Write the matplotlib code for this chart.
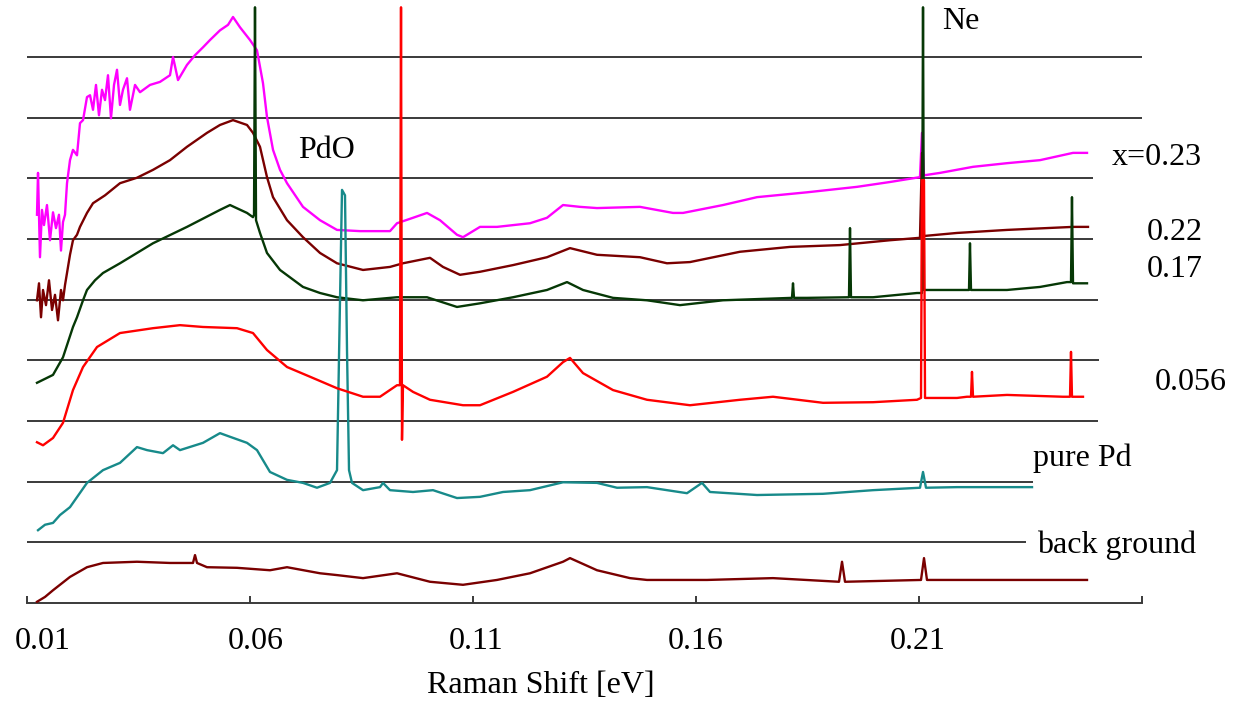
import matplotlib
matplotlib.use("Agg")
import matplotlib.pyplot as plt
import matplotlib.transforms as mtransforms

plt.rcParams['font.family'] = ['Liberation Serif', 'DejaVu Serif']

# ---------------- data (Raman shift in eV, intensity in offset units) -------------
x_023 = [0.01224, 0.01247, 0.01291, 0.01336, 0.01381, 0.01448, 0.01516, 0.01583, 0.01650, 0.01717,
         0.01762, 0.01807, 0.01852, 0.01897, 0.01964, 0.02031, 0.02121, 0.02188, 0.02256, 0.02345,
         0.02413, 0.02480, 0.02547, 0.02614, 0.02682, 0.02749, 0.02816, 0.02883, 0.02951, 0.03018,
         0.03085, 0.03152, 0.03242, 0.03309, 0.03422, 0.03534, 0.03758, 0.03982, 0.04206, 0.04274,
         0.04386, 0.04587, 0.04767, 0.04946, 0.05103, 0.05327, 0.05507, 0.05619, 0.05776, 0.06000,
         0.06157, 0.06291, 0.06381, 0.06516, 0.06673, 0.06830, 0.07188, 0.07570, 0.07951, 0.08466,
         0.09139, 0.09296, 0.09655, 0.09969, 0.10260, 0.10641, 0.10776, 0.11157, 0.11538, 0.12278,
         0.12659, 0.13018, 0.13399, 0.13780, 0.14744, 0.15484, 0.15709, 0.16605, 0.17368, 0.18489,
         0.19610, 0.20350, 0.21022, 0.21067, 0.21112, 0.21471, 0.22211, 0.22973, 0.23713, 0.24453,
         0.24767]
y_023 = [6.40, 7.09, 5.70, 6.48, 6.23, 6.56, 5.98, 6.44, 6.18, 6.40,
         5.81, 6.28, 6.40, 6.92, 7.30, 7.47, 7.38, 7.91, 7.96, 8.34,
         8.37, 8.13, 8.54, 8.04, 8.46, 8.29, 8.70, 7.99, 8.54, 8.79,
         8.21, 8.46, 8.65, 8.13, 8.54, 8.42, 8.54, 8.59, 8.70, 9.00,
         8.62, 8.87, 9.03, 9.16, 9.28, 9.44, 9.53, 9.66, 9.49, 9.28,
         9.11, 8.57, 8.01, 7.47, 7.14, 6.92, 6.53, 6.31, 6.15, 6.13,
         6.13, 6.26, 6.35, 6.43, 6.31, 6.07, 6.03, 6.20, 6.20, 6.26,
         6.35, 6.56, 6.53, 6.51, 6.53, 6.43, 6.43, 6.56, 6.69, 6.77,
         6.86, 6.94, 7.02, 7.75, 7.05, 7.09, 7.19, 7.25, 7.30, 7.42,
         7.42]

x_022 = [0.01224, 0.01269, 0.01314, 0.01359, 0.01426, 0.01493, 0.01561, 0.01628, 0.01695, 0.01762,
         0.01807, 0.01852, 0.01897, 0.01964, 0.02031, 0.02121, 0.02188, 0.02345, 0.02480, 0.02749,
         0.03085, 0.03466, 0.03825, 0.04206, 0.04587, 0.05036, 0.05327, 0.05619, 0.05933, 0.06067,
         0.06224, 0.06381, 0.06516, 0.06830, 0.07188, 0.07570, 0.07951, 0.08534, 0.09139, 0.09430,
         0.10036, 0.10327, 0.10709, 0.11157, 0.11897, 0.12659, 0.13175, 0.13780, 0.14744, 0.15350,
         0.15865, 0.16987, 0.18108, 0.19229, 0.20350, 0.21022, 0.21067, 0.21112, 0.21852, 0.22973,
         0.24453, 0.24789]
y_022 = [4.99, 5.27, 4.71, 5.16, 4.91, 5.32, 4.83, 5.08, 4.66, 5.16,
         4.99, 5.24, 5.44, 5.74, 5.98, 6.07, 6.20, 6.43, 6.59, 6.72,
         6.92, 7.01, 7.14, 7.30, 7.52, 7.75, 7.88, 7.96, 7.88, 7.75,
         7.52, 7.02, 6.69, 6.31, 6.03, 5.77, 5.60, 5.49, 5.54, 5.60,
         5.69, 5.54, 5.41, 5.46, 5.57, 5.70, 5.85, 5.74, 5.70, 5.60,
         5.62, 5.79, 5.87, 5.90, 5.98, 6.02, 7.42, 6.05, 6.10, 6.15,
         6.20, 6.20]

x_017 = [0.01224, 0.01583, 0.01807, 0.02031, 0.02121, 0.02256, 0.02345, 0.02525, 0.02704, 0.03085,
         0.03825, 0.04587, 0.05327, 0.05552, 0.05933, 0.06067, 0.06090, 0.06112, 0.06135, 0.06224,
         0.06381, 0.06673, 0.07188, 0.07570, 0.07951, 0.08534, 0.09296, 0.09969, 0.10641, 0.11157,
         0.11897, 0.12659, 0.13108, 0.13466, 0.14139, 0.14901, 0.15641, 0.16605, 0.18152, 0.18175,
         0.18197, 0.18489, 0.19430, 0.19453, 0.19475, 0.19969, 0.20955, 0.21067, 0.21090, 0.21112,
         0.21471, 0.22121, 0.22143, 0.22166, 0.22973, 0.23713, 0.24318, 0.24408, 0.24430, 0.24453,
         0.24767]
y_017 = [3.63, 3.76, 4.05, 4.55, 4.71, 4.99, 5.16, 5.32, 5.44, 5.60,
         5.93, 6.20, 6.48, 6.56, 6.43, 6.36, 6.40, 9.82, 6.31, 6.10,
         5.77, 5.49, 5.21, 5.11, 5.04, 4.99, 5.04, 5.04, 4.88, 4.94,
         5.04, 5.16, 5.29, 5.16, 5.03, 4.99, 4.91, 4.99, 5.03, 5.27,
         5.03, 5.03, 5.04, 6.18, 5.04, 5.04, 5.11, 5.11, 9.82, 5.16,
         5.16, 5.16, 5.93, 5.16, 5.16, 5.21, 5.29, 5.29, 6.69, 5.27,
         5.27]

x_0056 = [0.01224, 0.01359, 0.01583, 0.01807, 0.02031, 0.02256, 0.02570, 0.03085, 0.03825, 0.04430,
          0.04946, 0.05709, 0.06067, 0.06381, 0.06830, 0.07345, 0.07951, 0.08534, 0.08915, 0.09296,
          0.09363, 0.09386, 0.09408, 0.09430, 0.09655, 0.10036, 0.10776, 0.11157, 0.11897, 0.12659,
          0.13018, 0.13175, 0.13466, 0.14139, 0.14901, 0.15865, 0.16987, 0.17726, 0.18848, 0.19969,
          0.20955, 0.21045, 0.21067, 0.21112, 0.21135, 0.21852, 0.22076, 0.22166, 0.22188, 0.22211,
          0.22973, 0.24229, 0.24386, 0.24408, 0.24430, 0.24677]
y_0056 = [2.65, 2.60, 2.72, 2.97, 3.51, 3.89, 4.22, 4.45, 4.53, 4.58,
          4.55, 4.53, 4.45, 4.17, 3.89, 3.73, 3.54, 3.40, 3.40, 3.59,
          3.59, 9.82, 2.69, 3.59, 3.48, 3.35, 3.26, 3.26, 3.48, 3.73,
          3.97, 4.04, 3.79, 3.51, 3.35, 3.26, 3.35, 3.40, 3.30, 3.31,
          3.35, 3.38, 6.97, 6.97, 3.38, 3.38, 3.40, 3.40, 3.81, 3.40,
          3.43, 3.40, 3.40, 4.14, 3.40, 3.40]

x_pure = [0.01247, 0.01404, 0.01583, 0.01740, 0.01964, 0.02345, 0.02704, 0.03085, 0.03466, 0.03691,
          0.04049, 0.04274, 0.04430, 0.04946, 0.05327, 0.05552, 0.05933, 0.06157, 0.06448, 0.06830,
          0.07188, 0.07502, 0.07794, 0.07951, 0.08018, 0.08063, 0.08130, 0.08175, 0.08220, 0.08287,
          0.08534, 0.08915, 0.08982, 0.09139, 0.09655, 0.10103, 0.10641, 0.11157, 0.11673, 0.12278,
          0.13018, 0.13780, 0.14229, 0.14901, 0.15798, 0.16135, 0.16314, 0.17368, 0.18848, 0.19969,
          0.21022, 0.21090, 0.21157, 0.21852, 0.23489, 0.23534]
y_pure = [1.20, 1.29, 1.32, 1.45, 1.58, 1.98, 2.19, 2.31, 2.57, 2.52,
          2.47, 2.60, 2.52, 2.64, 2.80, 2.74, 2.64, 2.52, 2.16, 2.03,
          1.98, 1.90, 1.98, 2.19, 4.99, 6.81, 6.72, 4.17, 2.19, 1.98,
          1.86, 1.91, 1.98, 1.86, 1.83, 1.86, 1.73, 1.75, 1.83, 1.86,
          1.99, 1.98, 1.90, 1.91, 1.81, 1.98, 1.83, 1.78, 1.80, 1.86,
          1.90, 2.16, 1.90, 1.91, 1.91, 1.91]

x_bg = [0.01224, 0.01404, 0.01583, 0.01964, 0.02345, 0.02704, 0.03466, 0.04206, 0.04722, 0.04767,
        0.04812, 0.05036, 0.05709, 0.06448, 0.06830, 0.07570, 0.07951, 0.08534, 0.09296, 0.10036,
        0.10776, 0.11538, 0.12278, 0.13018, 0.13175, 0.13780, 0.14520, 0.14901, 0.16247, 0.17726,
        0.19206, 0.19274, 0.19341, 0.21045, 0.21112, 0.21179, 0.21852, 0.24767]
y_bg = [0.02, 0.10, 0.21, 0.43, 0.59, 0.66, 0.68, 0.66, 0.66, 0.79,
        0.66, 0.59, 0.58, 0.54, 0.59, 0.49, 0.46, 0.41, 0.49, 0.35,
        0.30, 0.38, 0.49, 0.68, 0.74, 0.54, 0.41, 0.38, 0.38, 0.41,
        0.35, 0.68, 0.35, 0.38, 0.74, 0.38, 0.38, 0.38]

grid_levels = [9, 8, 7, 6, 5, 4, 3, 2, 1]
grid_ends = [0.2600, 0.2600, 0.2490, 0.2490, 0.2501, 0.2504, 0.2501, 0.2356, 0.2340]

tick_values = [0.01, 0.06, 0.11, 0.16, 0.21, 0.26]
tick_labels = ['0.01', '0.06', '0.11', '0.16', '0.21', '']

# ---------------- figure ----------------
W, H = 1241, 704
fig = plt.figure(figsize=(W / 100, H / 100), dpi=100)
ax = fig.add_axes([27 / W, 101 / H, 1115 / W, 603 / H])
ax.set_xlim(0.01, 0.26)
ax.set_ylim(0, 9.94)

grid_col = '#3a3a3a'
for lvl, xe in zip(grid_levels, grid_ends):
    ax.plot([0.01, xe], [lvl, lvl], color=grid_col, lw=1.4, zorder=1, solid_capstyle='butt')

lw = 1.7
ax.plot(x_023, y_023, color='#ff00ff', lw=lw, zorder=2)
ax.plot(x_022, y_022, color='#7a0000', lw=lw, zorder=3)
ax.plot(x_017, y_017, color='#063806', lw=lw, zorder=4)
ax.plot(x_pure, y_pure, color='#178a8a', lw=lw, zorder=5)
ax.plot(x_bg, y_bg, color='#7a0000', lw=lw, zorder=5)
ax.plot(x_0056, y_0056, color='#ff0000', lw=lw, zorder=6)

for s in ['left', 'right', 'top']:
    ax.spines[s].set_visible(False)
ax.spines['bottom'].set_color(grid_col)
ax.spines['bottom'].set_linewidth(1.4)
ax.set_yticks([])
ax.set_xticks(tick_values)
ax.set_xticklabels(tick_labels)
ax.tick_params(axis='x', direction='in', length=5, width=1.4, color=grid_col,
               labelsize=23, pad=17, labelcolor='black')

# small horizontal nudges of tick labels (pixels) as in the original layout
label_shift_px = [16, 6, 3, 0, -1, 0]
for lab, dx in zip(ax.get_xticklabels(), label_shift_px):
    lab.set_transform(lab.get_transform() +
                      mtransforms.ScaledTranslation(dx / 100, 0, fig.dpi_scale_trans))

fs = 23
ax.text(0.21516, 9.46, 'Ne', fontsize=fs, ha='left', va='baseline', clip_on=False)
ax.text(0.07076, 7.33, 'PdO', fontsize=fs, ha='left', va='baseline', clip_on=False)
ax.text(0.25327, 7.22, 'x=0.23', fontsize=fs, ha='left', va='baseline', clip_on=False)
ax.text(0.26112, 5.98, '0.22', fontsize=fs, ha='left', va='baseline', clip_on=False)
ax.text(0.26112, 5.37, '0.17', fontsize=fs, ha='left', va='baseline', clip_on=False)
ax.text(0.26291, 3.51, '0.056', fontsize=fs, ha='left', va='baseline', clip_on=False)
ax.text(0.23556, 2.26, 'pure Pd', fontsize=fs, ha='left', va='baseline', clip_on=False)
ax.text(0.23646, 0.82, 'back ground', fontsize=fs, ha='left', va='baseline', clip_on=False)

fig.text(541 / W, 1 - 693 / H, 'Raman Shift [eV]', fontsize=fs, ha='center', va='baseline')

fig.savefig('out.png', dpi=100)
